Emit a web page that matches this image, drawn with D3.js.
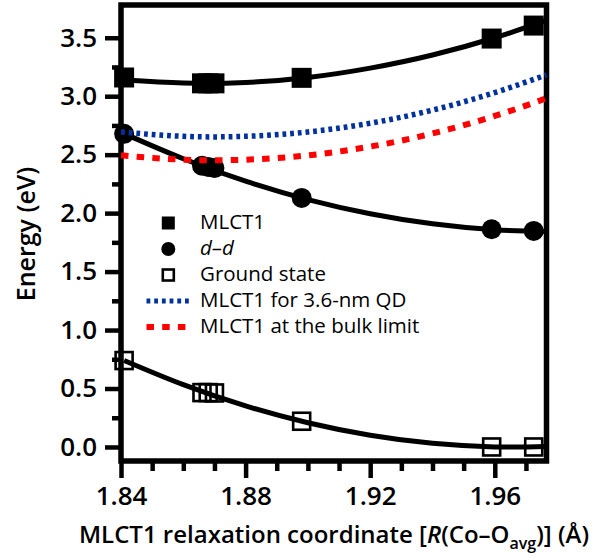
<!DOCTYPE html>
<html>
<head>
<meta charset="utf-8">
<script src="https://cdn.jsdelivr.net/npm/d3@7"></script>
<style>
  body { margin: 0; background: #fff; }
  svg { display: block; }
  text { font-family: "Open Sans", "Noto Sans", sans-serif; fill: #000; }
</style>
</head>
<body>
<script>
// Computed structures along the MLCT1 relaxation coordinate
const rCoord = [1.841, 1.866, 1.868, 1.870, 1.898, 1.959, 1.9725];
const mlct1 = [3.16, 3.11, 3.11, 3.11, 3.157, 3.493, 3.604];
const dd = [2.678, 2.405, 2.395, 2.385, 2.13, 1.862, 1.848];
const groundState = [0.739, 0.465, 0.465, 0.462, 0.22, 0.0, 0.0];

// Smooth fit curves through the computed energies
const fitR = [1.841, 1.86, 1.88, 1.90, 1.92, 1.94, 1.96, 1.9766];
const mlct1Fit = [3.14, 3.112, 3.117, 3.16, 3.24, 3.352, 3.50, 3.648];
const ddFit = [2.68, 2.465, 2.273, 2.116, 1.995, 1.909, 1.858, 1.843];
const groundFit = [0.74, 0.533, 0.351, 0.207, 0.10, 0.031, 0.0, 0.003];

// MLCT1 for a 3.6-nm quantum dot and at the bulk limit
const qdR = [1.84, 1.86, 1.88, 1.90, 1.92, 1.94, 1.96, 1.9766];
const mlct1QD = [2.694, 2.657, 2.657, 2.694, 2.769, 2.881, 3.031, 3.183];
const mlct1Bulk = [2.494, 2.457, 2.457, 2.494, 2.569, 2.681, 2.831, 2.983];

// Axis ticks
const yMajor = [0, 0.5, 1.0, 1.5, 2.0, 2.5, 3.0, 3.5];
const yMinor = [0.25, 0.75, 1.25, 1.75, 2.25, 2.75, 3.25];
const xMajor = [1.84, 1.88, 1.92, 1.96];
const xMinor = [1.85, 1.86, 1.87, 1.89, 1.90, 1.91, 1.93, 1.94, 1.95, 1.97];

const legendLabels = ["MLCT1", "d–d", "Ground state", "MLCT1 for 3.6-nm QD", "MLCT1 at the bulk limit"];

const W = 598, H = 560;
const blue = "#00329e", red = "#ff0000";

const svg = d3.select("body").append("svg").attr("width", W).attr("height", H);

const x = d3.scaleLinear().domain([1.84, 1.9766]).range([121, 546.5]);
const y = d3.scaleLinear().domain([-0.12, 3.78]).range([461, 5]);

// Axes
const yAxisMajor = d3.axisLeft(y).tickValues(yMajor).tickSize(16).tickSizeOuter(0)
  .tickPadding(8).tickFormat(d3.format(".1f"));
const yAxisMinor = d3.axisLeft(y).tickValues(yMinor).tickSize(9).tickSizeOuter(0).tickFormat("");
const xAxisMajor = d3.axisBottom(x).tickValues(xMajor).tickSize(17).tickSizeOuter(0)
  .tickFormat(d3.format(".2f"));
const xAxisMinor = d3.axisBottom(x).tickValues(xMinor).tickSize(10).tickSizeOuter(0).tickFormat("");

function styleAxis(g) {
  g.select(".domain").remove();
  g.selectAll(".tick line").attr("stroke", "#000").attr("stroke-width", 4.5);
  g.selectAll(".tick text").attr("font-family", "'Open Sans', sans-serif")
    .attr("font-size", 26).attr("font-weight", 600).attr("fill", "#000");
}

const x0 = x.range()[0], y0 = y.range()[0];
svg.append("g").attr("transform", `translate(${x0},0)`).call(yAxisMajor).call(styleAxis);
svg.append("g").attr("transform", `translate(${x0},0)`).call(yAxisMinor).call(styleAxis);
const gx = svg.append("g").attr("transform", `translate(0,${y0})`).call(xAxisMajor).call(styleAxis);
gx.selectAll(".tick text").attr("y", 44).attr("dy", null);
svg.append("g").attr("transform", `translate(0,${y0})`).call(xAxisMinor).call(styleAxis);

// Plot frame
svg.append("rect")
  .attr("x", x.range()[0]).attr("y", y.range()[1])
  .attr("width", x.range()[1] - x.range()[0]).attr("height", y.range()[0] - y.range()[1])
  .attr("fill", "none").attr("stroke", "#000").attr("stroke-width", 5.5);

// Fit curves
const fitLine = d3.line().x(d => x(d[0])).y(d => y(d[1])).curve(d3.curveNatural);
[mlct1Fit, ddFit, groundFit].forEach(vals => {
  svg.append("path")
    .datum(fitR.map((r, i) => [r, vals[i]]))
    .attr("d", fitLine)
    .attr("fill", "none").attr("stroke", "#000").attr("stroke-width", 5);
});

// Markers
const sq = 20;
svg.append("g").selectAll("rect").data(rCoord.map((r, i) => [r, mlct1[i]])).join("rect")
  .attr("x", d => x(d[0]) - sq / 2).attr("y", d => y(d[1]) - sq / 2)
  .attr("width", sq).attr("height", sq).attr("fill", "#000");
svg.append("g").selectAll("circle").data(rCoord.map((r, i) => [r, dd[i]])).join("circle")
  .attr("cx", d => x(d[0])).attr("cy", d => y(d[1])).attr("r", 10).attr("fill", "#000");
const osq = 17;
svg.append("g").selectAll("rect").data(rCoord.map((r, i) => [r, groundState[i]])).join("rect")
  .attr("x", d => x(d[0]) - osq / 2).attr("y", d => y(d[1]) - osq / 2)
  .attr("width", osq).attr("height", osq)
  .attr("fill", "none").attr("stroke", "#000").attr("stroke-width", 2.6);

// MLCT1 energies for the quantum dot and the bulk limit
const qdLine = d3.line().x(d => x(d[0])).y(d => y(d[1])).curve(d3.curveNatural);
svg.append("path").datum(qdR.map((r, i) => [r, mlct1QD[i]])).attr("d", qdLine)
  .attr("fill", "none").attr("stroke", blue).attr("stroke-width", 5.5)
  .attr("stroke-dasharray", "3.8,3.9");
svg.append("path").datum(qdR.map((r, i) => [r, mlct1Bulk[i]])).attr("d", qdLine)
  .attr("fill", "none").attr("stroke", red).attr("stroke-width", 6)
  .attr("stroke-dasharray", "7.5,8.2");

// Legend
const lg = svg.append("g");
const rowY = [229, 255, 281, 307, 333];
const symX = 168.3, txtX = 200;
lg.append("rect").attr("x", symX - 6.5).attr("y", rowY[0] - 6 - 6.5).attr("width", 13).attr("height", 13).attr("fill", "#000");
lg.append("circle").attr("cx", symX).attr("cy", rowY[1] - 6).attr("r", 7).attr("fill", "#000");
lg.append("rect").attr("x", symX - 5.5).attr("y", rowY[2] - 6 - 5.5).attr("width", 11).attr("height", 11)
  .attr("fill", "none").attr("stroke", "#000").attr("stroke-width", 2.6);
lg.append("line").attr("x1", 146.5).attr("x2", 190).attr("y1", rowY[3] - 6).attr("y2", rowY[3] - 6)
  .attr("stroke", blue).attr("stroke-width", 5).attr("stroke-dasharray", "3.8,3.9");
lg.append("line").attr("x1", 146.5).attr("x2", 190).attr("y1", rowY[4] - 6).attr("y2", rowY[4] - 6)
  .attr("stroke", red).attr("stroke-width", 6).attr("stroke-dasharray", "7.5,8.2");

legendLabels.forEach((lab, i) => {
  const t = lg.append("text").attr("x", txtX).attr("y", rowY[i]).attr("font-size", 20.5);
  if (lab === "d–d") {
    t.append("tspan").attr("font-style", "italic").text("d");
    t.append("tspan").text("–");
    t.append("tspan").attr("font-style", "italic").text("d");
  } else {
    t.text(lab);
  }
});

// Axis titles
const xt = svg.append("text").attr("x", 334).attr("y", 543).attr("text-anchor", "middle")
  .attr("font-size", 24).attr("font-weight", 600);
xt.append("tspan").text("MLCT1 relaxation coordinate [");
xt.append("tspan").attr("font-style", "italic").text("R");
xt.append("tspan").text("(Co–O");
xt.append("tspan").attr("font-size", 16).attr("dy", 6).text("avg");
xt.append("tspan").attr("dy", -6).text(")] (Å)");

svg.append("text").attr("transform", "translate(35,234) rotate(-90)")
  .attr("text-anchor", "middle").attr("font-size", 25).attr("font-weight", 600)
  .text("Energy (eV)");
</script>
</body>
</html>
